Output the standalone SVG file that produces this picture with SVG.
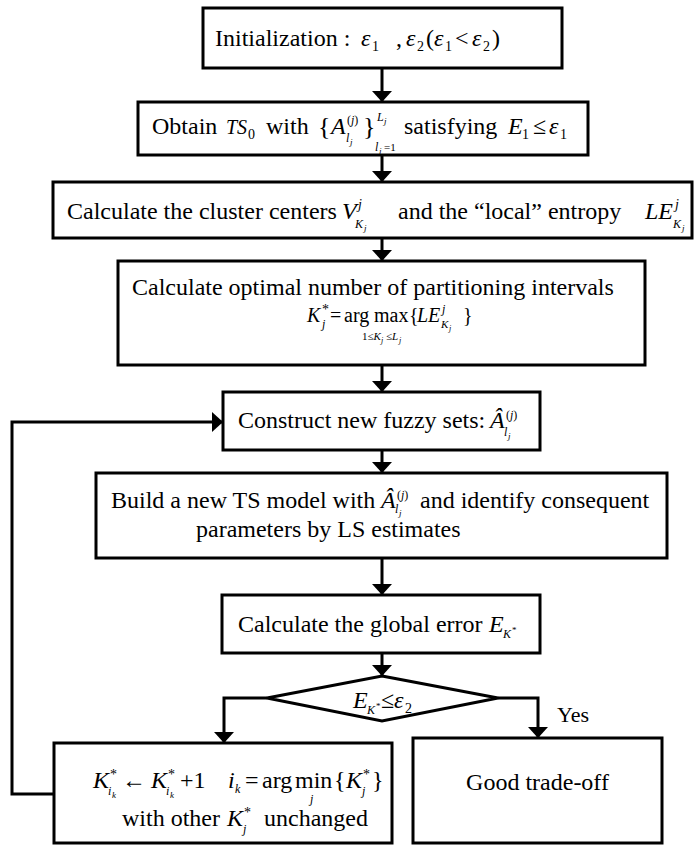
<svg xmlns="http://www.w3.org/2000/svg" width="697" height="847" viewBox="0 0 697 847">
<style>
.box{fill:#fff;stroke:#000;stroke-width:3}
.conn{fill:none;stroke:#000;stroke-width:3}
text{font-family:"Liberation Serif","Times New Roman",serif;font-size:24px;fill:#000}
.i{font-style:italic}
.s{font-size:14px}
.ss{font-size:12px}
.xs{font-size:9px}
.f{font-size:20px}
</style>
<defs>
<marker id="ah" viewBox="0 0 11 20" refX="11" refY="10" markerWidth="11" markerHeight="20" markerUnits="userSpaceOnUse" orient="auto">
<path d="M0,0 L11,10 L0,20 Z" fill="#000"/>
</marker>
</defs>
<rect width="697" height="847" fill="#fff"/>

<g id="connectors">
<line class="conn" x1="382" y1="68" x2="382" y2="102" marker-end="url(#ah)"/>
<line class="conn" x1="382" y1="155" x2="382" y2="182" marker-end="url(#ah)"/>
<line class="conn" x1="382" y1="238" x2="382" y2="261" marker-end="url(#ah)"/>
<line class="conn" x1="382" y1="365" x2="382" y2="392" marker-end="url(#ah)"/>
<line class="conn" x1="382" y1="450" x2="382" y2="473" marker-end="url(#ah)"/>
<line class="conn" x1="382" y1="558" x2="382" y2="595" marker-end="url(#ah)"/>
<line class="conn" x1="382" y1="653" x2="382" y2="676" marker-end="url(#ah)"/>
<polyline class="conn" points="267,698 224,698 224,743" marker-end="url(#ah)"/>
<polyline class="conn" points="498,698 538,698 538,738" marker-end="url(#ah)"/>
<polyline class="conn" points="54,794 12,794 12,422 223,422" marker-end="url(#ah)"/>
<text x="557" y="722" style="font-size:22px">Yes</text>
</g>

<g id="init">
<rect class="box" x="203" y="8" width="359" height="60"/>
<text y="46"><tspan x="215">Initialization :</tspan><tspan x="361" class="i">ε</tspan><tspan x="372" y="51" class="s">1</tspan><tspan x="396" y="46">,</tspan><tspan x="406" class="i">ε</tspan><tspan x="417" y="51" class="s">2</tspan><tspan x="426" y="46">(</tspan><tspan x="434" class="i">ε</tspan><tspan x="445" y="51" class="s">1</tspan><tspan x="455" y="46">&lt;</tspan><tspan x="472" class="i">ε</tspan><tspan x="483" y="51" class="s">2</tspan><tspan x="492" y="46">)</tspan></text>
</g>

<g id="obtain">
<rect class="box" x="138" y="102" width="450" height="53"/>
<text y="134"><tspan x="152">Obtain</tspan><tspan x="226" class="i" style="font-size:20px">TS</tspan><tspan x="248" y="139" class="s">0</tspan><tspan x="266" y="134">with</tspan><tspan x="318" y="135" style="font-size:26px">{</tspan><tspan x="331" y="134" class="i">A</tspan><tspan x="347" y="124" class="ss">(</tspan><tspan class="ss i">j</tspan><tspan class="ss">)</tspan><tspan x="346" y="142" class="ss i">l</tspan><tspan x="350" y="145" class="xs i">j</tspan><tspan x="363" y="135" style="font-size:26px">}</tspan><tspan x="377" y="121" class="ss i">L</tspan><tspan x="384" y="124" class="xs i">j</tspan><tspan x="375" y="151" class="ss i">l</tspan><tspan x="379" y="154" class="xs i">j</tspan><tspan x="384" y="151" style="font-size:11px">=1</tspan><tspan x="404" y="134">satisfying</tspan><tspan x="508" class="i">E</tspan><tspan x="522" y="139" class="s">1</tspan><tspan x="533" y="134">≤</tspan><tspan x="549" class="i">ε</tspan><tspan x="560" y="139" class="s">1</tspan></text>
</g>

<g id="centers">
<rect class="box" x="53" y="182" width="639" height="56"/>
<text y="219"><tspan x="67">Calculate the cluster centers</tspan><tspan x="342" class="i">V</tspan><tspan x="358" y="209" class="s i">j</tspan><tspan x="355" y="228" class="ss i">K</tspan><tspan x="364" y="231" class="xs i">j</tspan><tspan x="398" y="219">and the “local” entropy</tspan><tspan x="645" class="i">LE</tspan><tspan x="675" y="209" class="s i">j</tspan><tspan x="673" y="228" class="ss i">K</tspan><tspan x="682" y="231" class="xs i">j</tspan></text>
</g>

<g id="optimal">
<rect class="box" x="118" y="261" width="527" height="104"/>
<text x="132" y="295">Calculate optimal number of partitioning intervals</text>
<text y="322" class="f"><tspan x="307" class="i">K</tspan><tspan x="322" y="314" class="s">*</tspan><tspan x="322" y="328" class="ss i">j</tspan><tspan x="330" y="322">=</tspan><tspan x="344">arg</tspan><tspan x="374">max</tspan><tspan x="409">{</tspan><tspan x="417" class="i">LE</tspan><tspan x="442" y="313" class="ss i">j</tspan><tspan x="441" y="328" style="font-size:11px" class="i">K</tspan><tspan x="449" y="331" style="font-size:8px" class="i">j</tspan><tspan x="463" y="322">}</tspan></text>
<text y="340" style="font-size:11px"><tspan x="362">1≤</tspan><tspan class="i">K</tspan><tspan x="381" y="343" style="font-size:8px" class="i">j</tspan><tspan x="386" y="340">≤</tspan><tspan class="i">L</tspan><tspan x="399" y="343" style="font-size:8px" class="i">j</tspan></text>
</g>

<g id="construct">
<rect class="box" x="223" y="392" width="317" height="58"/>
<text y="428"><tspan x="238">Construct new fuzzy sets:</tspan><tspan x="490" class="i">Â</tspan><tspan x="506" y="419" class="ss">(</tspan><tspan class="ss i">j</tspan><tspan class="ss">)</tspan><tspan x="504" y="436" class="ss i">l</tspan><tspan x="508" y="439" class="xs i">j</tspan></text>
</g>

<g id="build">
<rect class="box" x="96" y="473" width="571" height="85"/>
<text y="508"><tspan x="111">Build a new TS model with</tspan><tspan x="381" class="i">Â</tspan><tspan x="397" y="499" class="ss">(</tspan><tspan class="ss i">j</tspan><tspan class="ss">)</tspan><tspan x="395" y="513" class="ss i">l</tspan><tspan x="399" y="516" class="xs i">j</tspan><tspan x="420" y="508">and identify consequent</tspan></text>
<text x="196" y="537">parameters by LS estimates</text>
</g>

<g id="global">
<rect class="box" x="222" y="595" width="318" height="58"/>
<text y="632"><tspan x="238">Calculate the global error</tspan><tspan x="489" class="i">E</tspan><tspan x="503" y="638" class="ss i">K</tspan><tspan x="512" y="633" class="xs">*</tspan></text>
</g>

<g id="decision">
<polygon class="box" points="382,676 498,698 382,721 267,698"/>
<text y="708"><tspan x="353" class="i">E</tspan><tspan x="367" y="714" class="ss i">K</tspan><tspan x="376" y="709" class="xs">*</tspan><tspan x="381" y="708">≤</tspan><tspan x="394" class="i">ε</tspan><tspan x="405" y="713" class="s">2</tspan></text>
</g>

<g id="update">
<rect class="box" x="54" y="743" width="338" height="100"/>
<text y="788"><tspan x="93" class="i">K</tspan><tspan x="110" y="779" class="s">*</tspan><tspan x="108" y="795" class="ss i">i</tspan><tspan x="112" y="798" class="xs i">k</tspan><tspan x="122" y="788">←</tspan><tspan x="151" class="i">K</tspan><tspan x="168" y="779" class="s">*</tspan><tspan x="166" y="795" class="ss i">i</tspan><tspan x="170" y="798" class="xs i">k</tspan><tspan x="180" y="788">+1</tspan><tspan x="228" class="i">i</tspan><tspan x="235" y="793" class="ss i">k</tspan><tspan x="245" y="788">=</tspan><tspan x="262">arg</tspan><tspan x="295">min</tspan><tspan x="310" y="803" class="ss i">j</tspan><tspan x="334" y="788">{</tspan><tspan x="346" class="i">K</tspan><tspan x="363" y="779" class="s">*</tspan><tspan x="362" y="795" class="ss i">j</tspan><tspan x="372" y="788">}</tspan></text>
<text y="826"><tspan x="122">with other</tspan><tspan x="227" class="i">K</tspan><tspan x="244" y="817" class="s">*</tspan><tspan x="243" y="833" class="ss i">j</tspan><tspan x="264" y="826">unchanged</tspan></text>
</g>

<g id="good">
<rect class="box" x="413" y="738" width="249" height="105"/>
<text x="537.5" y="790" text-anchor="middle">Good trade-off</text>
</g>
</svg>
